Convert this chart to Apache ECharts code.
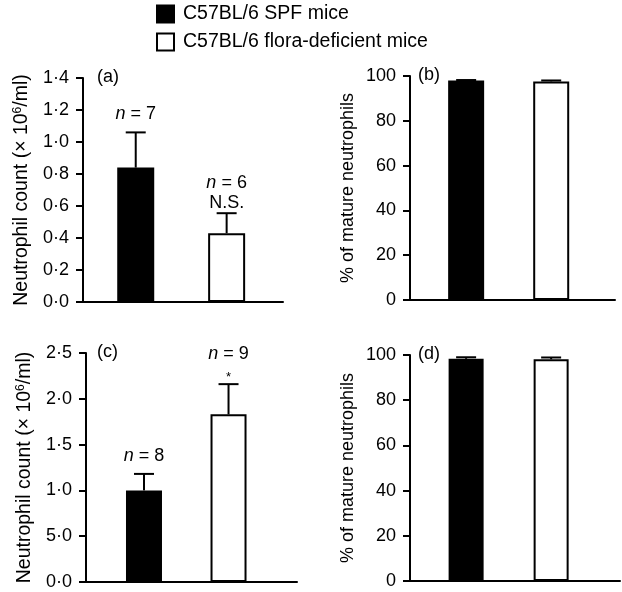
<!DOCTYPE html>
<html>
<head>
<meta charset="utf-8">
<script src="https://cdn.jsdelivr.net/npm/echarts@6/dist/echarts.min.js"></script>
<style>
html,body{margin:0;padding:0;background:#fff;}
#chart{width:622px;height:592px;}
</style>
</head>
<body>
<div id="chart"></div>
<script>
// ---- data ----
const groups = ['C57BL/6 SPF mice', 'C57BL/6 flora-deficient mice'];
// (a) neutrophil count (x10^6/ml): mean and upper end of error bar
const countA = [0.84, 0.43];
const upperA = [1.06, 0.555];
const notesA = [['n = 7'], ['n = 6', 'N.S.']];
// (b) % mature neutrophils
const matureB = [98.0, 97.6];
const upperB = [98.2, 98.0];
// (c) neutrophil count
const countC = [1.00, 1.83];
const upperC = [1.18, 2.16];
const notesC = [['n = 8'], ['n = 9', '*']];
// (d) % mature neutrophils
const matureD = [98.3, 98.1];
const upperD = [99.0, 98.9];
// tick labels
const ticksA = ['0·0', '0·2', '0·4', '0·6', '0·8', '1·0', '1·2', '1·4'];
const ticksC = ['0·0', '5·0', '1·0', '1·5', '2·0', '2·5'];
const ticksPct = ['0', '20', '40', '60', '80', '100'];
const panelLabels = ['(a)', '(b)', '(c)', '(d)'];

const FONT = '"Liberation Sans", Arial, Helvetica, sans-serif';
const FS = 18;

const panels = [
  {grid: {left: 83, top: 78, width: 200, height: 224}, xmin: -0.58, xmax: 1.62, barW: 37,
   ymax: 1.4, interval: 0.2, ticks: ticksA, vals: countA, up: upperA, notes: notesA, count: true, lab: [97, 68]},
  {grid: {left: 410, top: 76, width: 205, height: 224}, xmin: -0.66, xmax: 1.75, barW: 36,
   ymax: 100, interval: 20, ticks: ticksPct, vals: matureB, up: upperB, notes: [[], []], count: false, lab: [418, 66]},
  {grid: {left: 86, top: 353, width: 211, height: 229}, xmin: -0.686, xmax: 1.81, barW: 36,
   ymax: 2.5, interval: 0.5, ticks: ticksC, vals: countC, up: upperC, notes: notesC, count: true, lab: [97, 343]},
  {grid: {left: 410, top: 355, width: 210, height: 226}, xmin: -0.66, xmax: 1.81, barW: 35,
   ymax: 100, interval: 20, ticks: ticksPct, vals: matureD, up: upperD, notes: [[], []], count: false, lab: [418, 345]}
];

const grid = [], xAxis = [], yAxis = [], series = [], title = [];
panels.forEach((p, i) => {
  grid.push(p.grid);
  xAxis.push({
    type: 'value', gridIndex: i, min: p.xmin, max: p.xmax,
    axisLine: {show: true, onZero: false, lineStyle: {color: '#000', width: 2}},
    axisTick: {show: false}, axisLabel: {show: false}, splitLine: {show: false}
  });
  const nfs = p.count ? 19.5 : 18;
  yAxis.push({
    type: 'value', gridIndex: i, min: 0, max: p.ymax, interval: p.interval,
    name: p.count ? '{a|Neutrophil count (× 10}{s|6}{a|/ml)}' : '% of mature neutrophils',
    nameLocation: 'middle', nameGap: p.count ? 51 : 53,
    nameTextStyle: {
      fontFamily: FONT, fontSize: nfs, color: '#000',
      rich: {a: {fontFamily: FONT, fontSize: nfs, color: '#000'},
             s: {fontFamily: FONT, fontSize: 12, color: '#000', verticalAlign: 'top', padding: [0, 0, 8, 0]}}
    },
    axisLine: {show: true, onZero: false, lineStyle: {color: '#000', width: 2}},
    axisTick: {show: true, inside: false, length: 7, lineStyle: {color: '#000', width: 2}},
    axisLabel: {
      fontFamily: FONT, fontSize: FS, color: '#000', margin: 14,
      formatter: v => p.ticks[Math.round(v / p.interval)]
    },
    splitLine: {show: false}
  });
  title.push({text: panelLabels[i], left: p.lab[0], top: p.lab[1], padding: 0,
    textStyle: {fontFamily: FONT, fontSize: FS, fontWeight: 'normal', color: '#000'}});
  groups.forEach((g, gi) => {
    series.push({
      type: 'bar', name: g, xAxisIndex: i, yAxisIndex: i,
      barWidth: p.barW, barGap: '-100%',
      data: [[gi, p.vals[gi]]],
      itemStyle: gi === 0 ? {color: '#000', borderColor: '#000', borderWidth: 2}
                          : {color: '#fff', borderColor: '#000', borderWidth: 2},
      silent: true, z: 2
    });
  });
  series.push({
    type: 'custom', xAxisIndex: i, yAxisIndex: i, z: 3, silent: true,
    data: groups.map((g, gi) => [gi, p.vals[gi], p.up[gi]]),
    renderItem: (params, api) => {
      const idx = params.dataIndex;
      const x = api.value(0);
      const base = api.coord([x, api.value(1)]);
      const top = api.coord([x, api.value(2)]);
      const cap = 10;
      const children = [
        {type: 'line', shape: {x1: base[0], y1: base[1], x2: top[0], y2: top[1]},
         style: {stroke: '#000', lineWidth: 2}},
        {type: 'line', shape: {x1: top[0] - cap, y1: top[1], x2: top[0] + cap, y2: top[1]},
         style: {stroke: '#000', lineWidth: 2}}
      ];
      const notes = p.notes[idx] || [];
      const offs = notes.length === 1 ? [18] : [30, 10];
      notes.forEach((n, k) => {
        const isN = n.startsWith('n ');
        children.push({
          type: 'text',
          style: {
            text: isN ? '{i|n}' + n.slice(1) : n,
            x: top[0], y: top[1] - offs[k] + (n === '*' ? 3 : 0), align: 'center', verticalAlign: 'middle',
            fontFamily: FONT, fontSize: n === '*' ? 13 : FS, fill: '#000',
            rich: {i: {fontStyle: 'italic', fontFamily: FONT, fontSize: FS}}
          }
        });
      });
      return {type: 'group', children};
    }
  });
});

const chart = echarts.init(document.getElementById('chart'), null, {renderer: 'canvas'});
chart.setOption({
  animation: false,
  backgroundColor: '#fff',
  textStyle: {fontFamily: FONT},
  title,
  legend: {
    data: groups, orient: 'vertical', left: 156, top: 4, padding: 0,
    itemWidth: 17, itemHeight: 17, itemGap: 8,
    icon: 'rect', selectedMode: false,
    textStyle: {fontFamily: FONT, fontSize: 19.5, color: '#000', padding: [0, 0, 0, 4]}
  },
  grid, xAxis, yAxis, series
});
</script>
</body>
</html>
